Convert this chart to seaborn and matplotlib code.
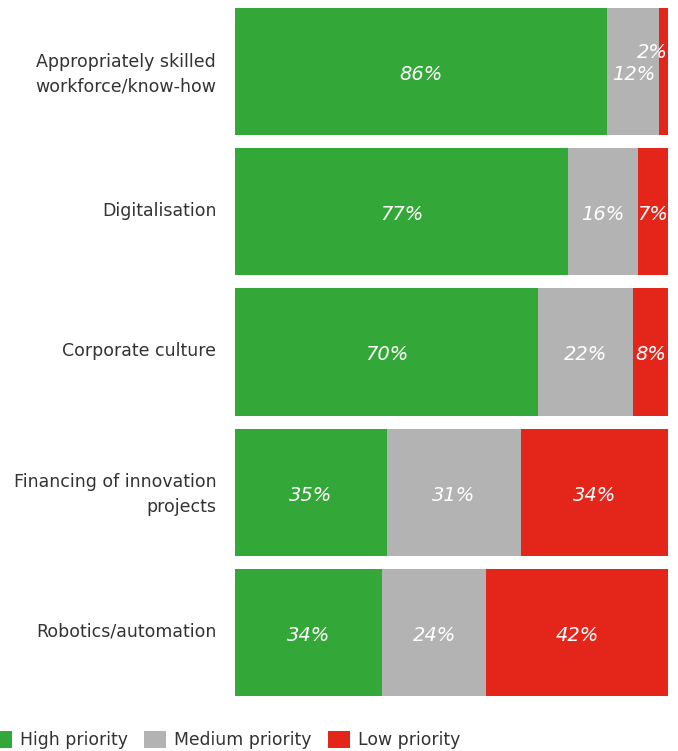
import matplotlib
matplotlib.use("Agg")
import matplotlib.pyplot as plt
import matplotlib.transforms as mtransforms
from matplotlib.patches import Patch
import seaborn as sns
import pandas as pd

categories = [
    "Appropriately skilled\nworkforce/know-how",
    "Digitalisation",
    "Corporate culture",
    "Financing of innovation\nprojects",
    "Robotics/automation",
]
high = [86, 77, 70, 35, 34]
medium = [12, 16, 22, 31, 24]
low = [2, 7, 8, 34, 42]
series_names = ["High priority", "Medium priority", "Low priority"]
colors = ["#33a838", "#b3b3b3", "#e32619"]

sns.set_theme(style="white")
plt.rcParams["font.family"] = ["DejaVu Sans"]

df = pd.DataFrame({"category": categories, "high": high, "medium": medium, "low": low})
df["cum_high"] = df["high"]
df["cum_med"] = df["high"] + df["medium"]
df["cum_low"] = df["high"] + df["medium"] + df["low"]

fig = plt.figure(figsize=(6.78, 7.51), dpi=100)
ax = fig.add_axes([235 / 678, 1 - 696 / 751, 433 / 678, 688 / 751])

bar_h = 0.907
# stacked bars: draw cumulative totals from back to front
for col, c in zip(["cum_low", "cum_med", "cum_high"], colors[::-1]):
    sns.barplot(data=df, x=col, y="category", color=c, width=bar_h,
                orient="h", ax=ax, saturation=1, linewidth=0)

ax.set_xlim(0, 100)
ax.set_ylim(len(categories) - 1 + bar_h / 2, -bar_h / 2)
ax.set_xlabel("")
ax.set_ylabel("")
ax.set_xticks([])
ax.tick_params(axis="y", length=0, pad=13.5, labelsize=12.5, labelcolor="#333333")
lift = mtransforms.ScaledTranslation(0, 3 / 100, fig.dpi_scale_trans)
for lbl in ax.get_yticklabels():
    lbl.set_horizontalalignment("right")
    lbl.set_multialignment("right")
    lbl.set_linespacing(1.5)
    lbl.set_transform(lbl.get_transform() + lift)
for s in ax.spines.values():
    s.set_visible(False)

# value labels
for i in range(len(categories)):
    starts = [0, high[i], high[i] + medium[i]]
    vals = [high[i], medium[i], low[i]]
    for st, v in zip(starts, vals):
        if v < 5:
            ax.annotate(f"{v}%", xy=(st + v, i), xytext=(0, 13.5),
                        textcoords="offset points", ha="right", va="center",
                        color="white", fontstyle="italic", fontsize=14)
        else:
            ax.text(st + v / 2, i + 0.02, f"{v}%", ha="center", va="center",
                    color="white", fontstyle="italic", fontsize=14)

handles = [Patch(facecolor=c, edgecolor="none") for c in colors]
fig.legend(handles, series_names, loc="center left",
           bbox_to_anchor=(-10 / 678, 1 - 740 / 751), ncol=3, frameon=False,
           fontsize=12.4, handlelength=1.28, handleheight=1.16,
           handletextpad=0.47, columnspacing=0.93, borderpad=0,
           borderaxespad=0, labelcolor="#333333")

fig.savefig("out.png", dpi=100)
